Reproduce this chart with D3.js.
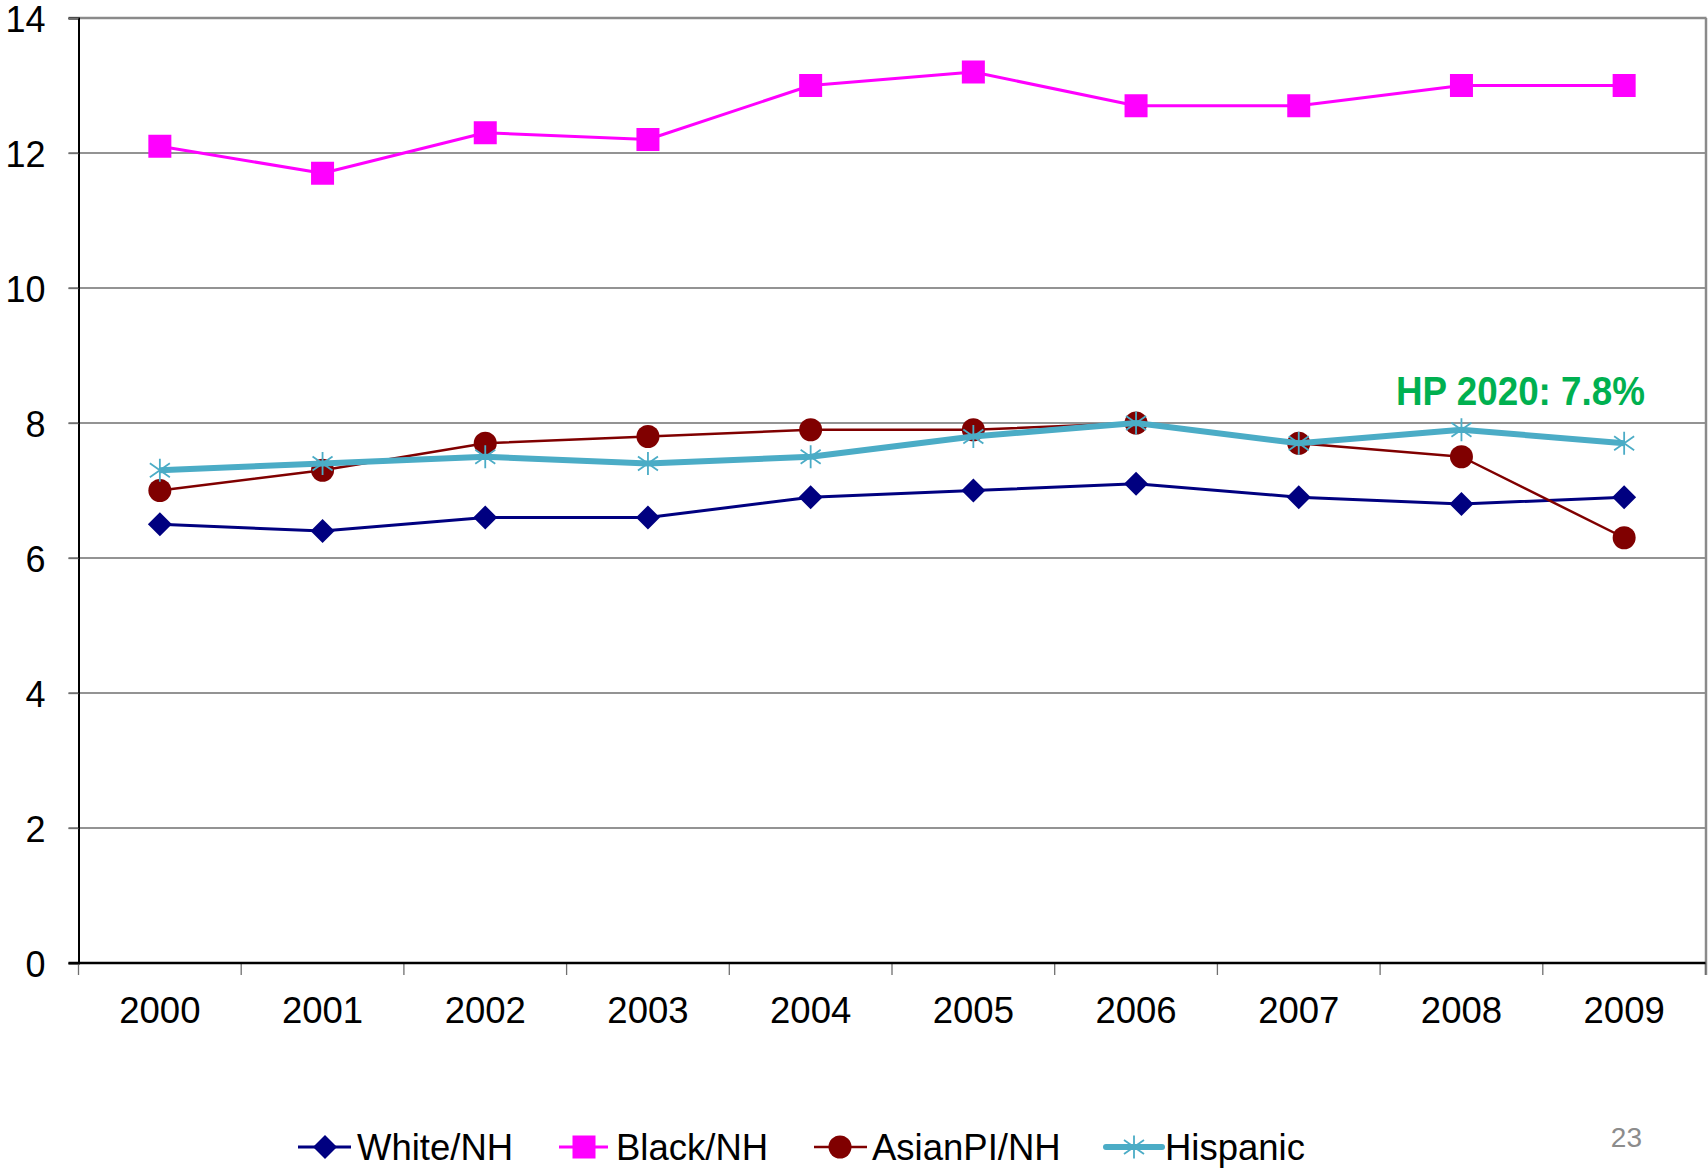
<!DOCTYPE html>
<html>
<head>
<meta charset="utf-8">
<script src="https://cdn.jsdelivr.net/npm/d3@7"></script>
<style>
  html, body { margin: 0; padding: 0; background: #fff; }
  svg { display: block; }
  text { font-family: "Liberation Sans", Arial, sans-serif; }
</style>
</head>
<body>
<svg id="chart" width="1708" height="1169"></svg>
<script>
const years = ["2000","2001","2002","2003","2004","2005","2006","2007","2008","2009"];
const whiteNH    = [6.5, 6.4, 6.6, 6.6, 6.9, 7.0, 7.1, 6.9, 6.8, 6.9];
const blackNH    = [12.1, 11.7, 12.3, 12.2, 13.0, 13.2, 12.7, 12.7, 13.0, 13.0];
const asianPINH  = [7.0, 7.3, 7.7, 7.8, 7.9, 7.9, 8.0, 7.7, 7.5, 6.3];
const hispanic   = [7.3, 7.4, 7.5, 7.4, 7.5, 7.8, 8.0, 7.7, 7.9, 7.7];
const yTicks = [0, 2, 4, 6, 8, 10, 12, 14];
const seriesNames = ["White/NH", "Black/NH", "AsianPI/NH", "Hispanic"];
const annotation = "HP 2020: 7.8%";
const pageNumber = "23";

const series = [
  {name: seriesNames[0], values: whiteNH,   color: "#000080", width: 3,   marker: "diamond"},
  {name: seriesNames[1], values: blackNH,   color: "#FF00FF", width: 3,   marker: "square"},
  {name: seriesNames[2], values: asianPINH, color: "#800000", width: 2.5, marker: "circle"},
  {name: seriesNames[3], values: hispanic,  color: "#4BACC6", width: 6,   marker: "star"}
];

const svg = d3.select("#chart");
const pLeft = 78.5, pRight = 1705.5, pTop = 18, pBottom = 963;

const x = d3.scaleBand().domain(years).range([pLeft, pRight]).padding(0);
const y = d3.scaleLinear().domain([0, 14]).range([pBottom, pTop]);
const cx = d => x(d) + x.bandwidth() / 2;

// gridlines
svg.append("g").selectAll("line").data(yTicks.filter(t => t > 0 && t < 14)).join("line")
  .attr("x1", pLeft - 10).attr("x2", pRight)
  .attr("y1", d => y(d)).attr("y2", d => y(d))
  .attr("stroke", "#6f6f6f").attr("stroke-width", 1.3);

// top border and right border
svg.append("line").attr("x1", pLeft - 10).attr("x2", pRight + 1).attr("y1", y(14)).attr("y2", y(14))
  .attr("stroke", "#8a8a8a").attr("stroke-width", 2.5);
svg.append("line").attr("x1", pRight + 0.5).attr("x2", pRight + 0.5).attr("y1", y(14)).attr("y2", pBottom + 12)
  .attr("stroke", "#8a8a8a").attr("stroke-width", 2.5);

// Y axis
const yAxis = d3.axisLeft(y).tickValues(yTicks).tickSize(10).tickPadding(23).tickFormat(d3.format("d"));
const gy = svg.append("g").attr("transform", `translate(${pLeft},0)`).call(yAxis);
gy.select(".domain").attr("stroke", "#000").attr("stroke-width", 2);
gy.selectAll(".tick line").attr("stroke", "#6f6f6f").attr("stroke-width", 1.3);
gy.selectAll("text").attr("font-size", 36).attr("fill", "#000").attr("dy", "0.38em")
  .attr("font-family", "'Liberation Sans', Arial, sans-serif");

// X axis ticks at band boundaries
const boundaries = years.map(d => x(d)).concat([pRight]);
svg.append("g").selectAll("line").data(boundaries).join("line")
  .attr("x1", d => d).attr("x2", d => d).attr("y1", pBottom).attr("y2", pBottom + 12)
  .attr("stroke", "#6f6f6f").attr("stroke-width", 1.3);
svg.append("line").attr("x1", pLeft - 10).attr("x2", pRight).attr("y1", pBottom).attr("y2", pBottom)
  .attr("stroke", "#000").attr("stroke-width", 2.5);
svg.append("g").selectAll("text").data(years).join("text")
  .attr("x", d => cx(d)).attr("y", 1023)
  .attr("text-anchor", "middle").attr("font-size", 36.5).attr("fill", "#000")
  .text(d => d);

// marker drawing
function drawMarker(g, type, color, px, py, size) {
  const h = size / 2;
  if (type === "diamond") {
    g.append("path").attr("d", `M${px},${py - h}L${px + h},${py}L${px},${py + h}L${px - h},${py}Z`)
     .attr("fill", color);
  } else if (type === "square") {
    g.append("rect").attr("x", px - h).attr("y", py - h).attr("width", size).attr("height", size)
     .attr("fill", color);
  } else if (type === "circle") {
    g.append("circle").attr("cx", px).attr("cy", py).attr("r", h).attr("fill", color);
  } else if (type === "star") {
    const dx = h * 0.87, dy = h * 0.6;
    g.append("path")
     .attr("d", `M${px},${py - h}L${px},${py + h}M${px - dx},${py - dy}L${px + dx},${py + dy}M${px - dx},${py + dy}L${px + dx},${py - dy}`)
     .attr("stroke", color).attr("stroke-width", 1.8).attr("fill", "none");
  }
}

const markerSize = {diamond: 24, square: 23, circle: 23, star: 23};

const line = d3.line().x((v, i) => cx(years[i])).y(v => y(v));
series.forEach(s => {
  const g = svg.append("g");
  g.append("path").attr("d", line(s.values)).attr("fill", "none")
    .attr("stroke", s.color).attr("stroke-width", s.width).attr("stroke-linejoin", "round");
  s.values.forEach((v, i) => drawMarker(g, s.marker, s.color, cx(years[i]), y(v), markerSize[s.marker]));
});

// annotation
svg.append("text").attr("x", 1396).attr("y", 405)
  .attr("font-family", "Lato, 'Open Sans', sans-serif").attr("font-weight", "bold")
  .attr("font-size", 41).attr("fill", "#00B050")
  .attr("textLength", 249).attr("lengthAdjust", "spacingAndGlyphs")
  .text(annotation);

// legend
const legendY = 1147;
const legendItems = [
  {lx1: 298, lx2: 351, mx: 325, tx: 357},
  {lx1: 559, lx2: 608, mx: 584, tx: 616},
  {lx1: 814, lx2: 867, mx: 840, tx: 872},
  {lx1: 1106, lx2: 1162, mx: 1134, tx: 1165}
];
series.forEach((s, i) => {
  const L = legendItems[i];
  const g = svg.append("g");
  g.append("line").attr("x1", L.lx1).attr("x2", L.lx2).attr("y1", legendY).attr("y2", legendY)
    .attr("stroke", s.color).attr("stroke-width", s.width).attr("stroke-linecap", s.marker === "star" ? "round" : "butt");
  drawMarker(g, s.marker, s.color, L.mx, legendY, markerSize[s.marker]);
  g.append("text").attr("x", L.tx).attr("y", legendY + 13).attr("font-size", 36.5).attr("fill", "#000").text(s.name);
});

// page number
svg.append("text").attr("x", 1642).attr("y", 1147).attr("text-anchor", "end")
  .attr("font-family", "Lato, 'Open Sans', sans-serif").attr("font-size", 28).attr("fill", "#8c8c8c")
  .text(pageNumber);
</script>
</body>
</html>
